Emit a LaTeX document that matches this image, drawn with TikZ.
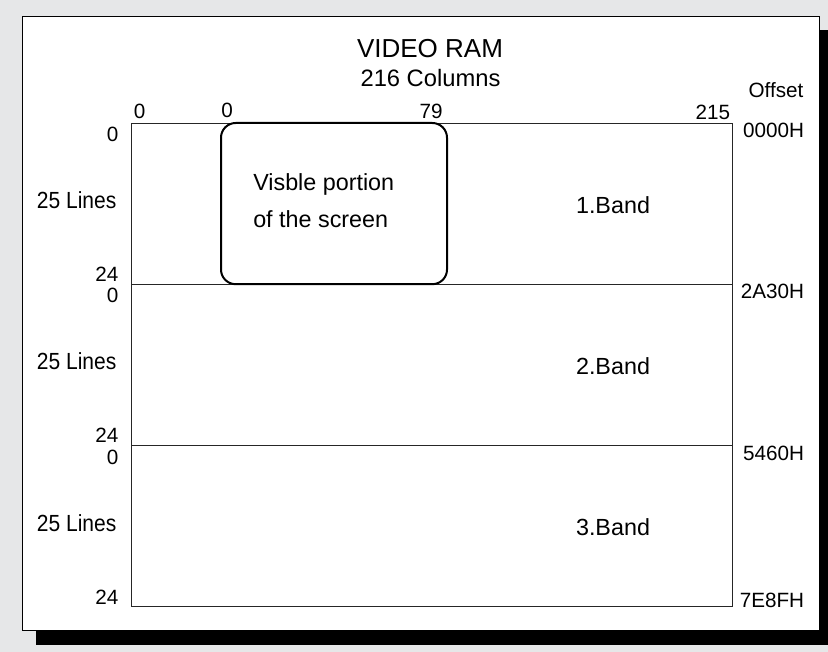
\documentclass[tikz,border=0pt]{standalone}
\usepackage{fontspec}
\setmainfont{Liberation Sans}
\usetikzlibrary{positioning}
\definecolor{pagegray}{HTML}{E6E7E8}

\begin{document}
\begin{tikzpicture}[x=0.75pt,y=-0.75pt,
    band/.style={rectangle,draw=black!85,line width=0.6pt,minimum width=450.75pt,minimum height=120.9pt,inner sep=0pt},
    screenbox/.style={rectangle,rounded corners=11pt,draw,line width=1.5pt,minimum width=169.5pt,minimum height=120.9pt,inner sep=0pt},
    heading/.style={font=\fontsize{19.5}{22}\selectfont,inner sep=0pt,anchor=base},
    txt/.style={font=\fontsize{17.5}{20}\selectfont,inner sep=0pt},
    num/.style={font=\fontsize{15.5}{18}\selectfont,inner sep=0pt},
    offs/.style={font=\fontsize{15.5}{18}\selectfont,inner sep=0pt,anchor=base east}]
    \useasboundingbox[fill=pagegray] (0,0) rectangle (828,652);
    % panel with shadow
    \fill[black] (36,30) rectangle (840,645);
    \draw[fill=white,line width=0.75pt] (22,17) rectangle (819,630);
    % headings
    \node[heading] (ram) at (430,58) {VIDEO RAM};
    \node[heading,font=\fontsize{17.8}{20}\selectfont] (cols) at (430.5,87) {216 Columns};
    \node[offs,anchor=base] (offset) at (776,98) {Offset};
    % the three bands
    \foreach \i/\y/\off in {1/203.6/0000H,2/364.8/2A30H,3/526/5460H}{
        \node[band] (band\i) at (431.5,\y) {};
        \node[txt,anchor=base] (bandname\i) at ([shift={(181.5,9.5)}]band\i.center) {\i.Band};
        \node[txt,anchor=base east] (lines\i) at ([shift={(-14,5)}]band\i.west) {\scalebox{0.9}[1]{25 Lines}};
        \node[num,anchor=base east] (first\i) at ([shift={(-12,19)}]band\i.north west) {0};
        \node[num,anchor=base east] (last\i) at ([shift={(-12,-3)}]band\i.south west) {24};
        \node[offs] (off\i) at ([shift={(72,15)}]band\i.north east) {\off};
    }
    \node[offs] (off4) at ([shift={(72,0)}]band3.south east) {7E8FH};
    % visible part of the screen
    \node[screenbox] (vis) at (334,203.6) {};
    \node[txt,anchor=base west,align=left,font=\fontsize{17.5}{27.75}\selectfont] (vistext) at (253,228) {Visble portion\\of the screen};
    % column numbers
    \node[num,anchor=base] (col0) at ([shift={(9,-4)}]band1.north west) {0};
    \node[num,anchor=base] (viscol0) at ([shift={(7,-4)}]vis.north west) {0};
    \node[num,anchor=base] (viscol79) at ([shift={(-17,-3)}]vis.north east) {79};
    \node[num,anchor=base east] (col215) at ([shift={(-2,-3)}]band1.north east) {215};
\end{tikzpicture}
\end{document}
